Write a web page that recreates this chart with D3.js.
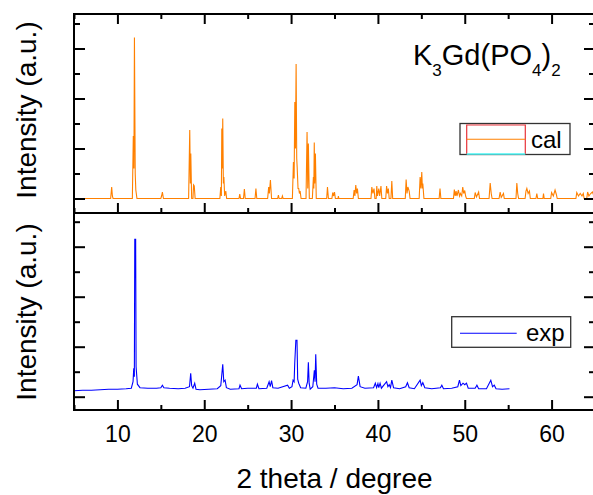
<!DOCTYPE html>
<html>
<head>
<meta charset="utf-8">
<script src="https://cdn.jsdelivr.net/npm/d3@7"></script>
<style>
body { margin: 0; background: #fff; }
text { font-family: "Liberation Sans", Arial, sans-serif; fill: #000; }
</style>
</head>
<body>
<svg id="chart" width="593" height="495"></svg>
<script>
// x axis ticks (2 theta)
var xMajor = [10, 20, 30, 40, 50, 60];
var xMinor = [5, 15, 25, 35, 45, 55, 65];
// intensity ticks (arbitrary units, one per major tick)
var yMajor = [0, 1, 2, 3];
var yMinor = [0.5, 1.5, 2.5, 3.5];

// calculated pattern: [2theta, intensity]
var calData = [
  [5,0],
  [9.22,0],[9.34,0.23],[9.42,0.05],[9.5,0],
  [11.72,0],[11.83,1.25],[11.9,0.6],[11.96,3.22],[12.05,0.5],[12.12,0.17],[12.25,0],
  [15.0,0],[15.1,0.06],[15.18,0.13],[15.3,0],
  [18.2,0],[18.33,1.37],[18.4,0.3],[18.45,0.9],[18.55,0],[18.7,0],[18.77,0.27],[18.85,0.25],[18.95,0],
  [21.8,0],[21.9,0.23],[21.97,0.05],[22.02,1.4],[22.08,0.6],[22.13,1.6],[22.2,0.3],[22.26,0.43],[22.35,0.05],[22.48,0.15],[22.58,0],
  [24.0,0],[24.09,0.09],[24.18,0],[24.52,0],[24.62,0.19],[24.72,0],
  [25.85,0],[25.95,0.2],[26.05,0],
  [27.3,0],[27.42,0.23],[27.5,0.1],[27.62,0.37],[27.75,0],
  [28.45,0],[28.54,0.07],[28.62,0],[28.92,0],[29.0,0.05],[29.08,0],
  [30.15,0],[30.27,0.73],[30.35,0.4],[30.43,1.93],[30.5,1.0],[30.58,2.69],[30.65,0.8],[30.7,0.63],[30.8,0.2],[30.88,0.2],[30.96,0.1],[31.04,0.15],[31.15,0],
  [31.72,0],[31.84,1.33],[31.92,0.2],[31.99,1.1],[32.1,0],
  [32.45,0],[32.57,0.43],[32.62,0.2],[32.67,1.12],[32.72,0.3],[32.8,0.9],[32.9,0],
  [34.1,0],[34.19,0.23],[34.3,0],[34.7,0],[34.8,0.12],[34.9,0.05],[35.0,0.13],[35.1,0],[35.4,0],[35.45,0.05],[35.5,0],
  [37.15,0],[37.26,0.17],[37.35,0.05],[37.45,0.27],[37.55,0.1],[37.64,0.2],[37.75,0],
  [39.2,0],[39.3,0.23],[39.42,0.1],[39.55,0.2],[39.65,0],
  [39.8,0],[39.87,0.25],[39.95,0.05],[40.1,0.2],[40.2,0.05],[40.35,0.25],[40.45,0],
  [40.9,0],[41.0,0.25],[41.1,0.1],[41.2,0.2],[41.3,0],[41.5,0],[41.6,0.35],[41.7,0],
  [43.15,0],[43.25,0.38],[43.35,0.1],[43.45,0.23],[43.6,0.15],[43.7,0],
  [44.75,0],[44.86,0.43],[44.95,0.2],[45.05,0.53],[45.12,0.2],[45.17,0.3],[45.3,0],
  [47.05,0],[47.15,0.2],[47.25,0],
  [48.7,0],[48.8,0.18],[48.9,0.05],[49.0,0.15],[49.1,0.05],[49.27,0.17],[49.4,0.05],[49.5,0.1],[49.65,0.05],[49.77,0.23],[49.88,0.1],[50.0,0.16],[50.1,0.05],[50.2,0],
  [51.1,0],[51.2,0.12],[51.35,0.03],[51.6,0.13],[51.7,0],
  [52.8,0],[52.93,0.31],[53.05,0.1],[53.15,0],
  [53.95,0],[54.08,0.13],[54.2,0.02],[54.46,0.1],[54.55,0],
  [55.9,0],[56.0,0.31],[56.1,0.1],[56.2,0],
  [56.95,0],[57.05,0.15],[57.15,0.2],[57.3,0.1],[57.45,0.15],[57.55,0],
  [58.2,0],[58.3,0.1],[58.4,0],[59.0,0],[59.07,0.1],[59.15,0],
  [59.9,0],[60.0,0.12],[60.2,0.05],[60.4,0.17],[60.55,0.08],[60.65,0],
  [62.8,0],[62.9,0.12],[63.1,0.05],[63.3,0.1],[63.5,0.05],[63.65,0.1],[63.75,0],
  [64.05,0],[64.15,0.13],[64.3,0.05],[64.5,0.1],[64.7,0.13],[65,0]
];

// measured pattern: [2theta, intensity]
var expData = [
  [5,0.12],[6,0.13],[7,0.13],[8,0.14],[9,0.15],[10,0.15],[11,0.16],[11.6,0.17],
  [11.8,0.3],[11.88,0.57],[11.95,0.4],[12.0,3.15],[12.1,3.15],[12.15,0.6],[12.3,0.25],[12.6,0.18],
  [13.5,0.17],[14.5,0.17],[15.0,0.18],[15.18,0.23],[15.35,0.18],[16,0.17],[17,0.16],[17.8,0.17],
  [18.3,0.2],[18.44,0.47],[18.55,0.22],[18.7,0.17],[18.9,0.27],[19.05,0.15],[19.5,0.14],[20.5,0.15],
  [21.5,0.16],[21.9,0.22],[22.0,0.4],[22.13,0.65],[22.25,0.3],[22.4,0.33],[22.55,0.18],[23,0.15],
  [24,0.16],[24.12,0.23],[24.3,0.16],[25,0.17],[26,0.17],[26.12,0.25],[26.3,0.16],[27.2,0.17],
  [27.47,0.3],[27.6,0.2],[27.75,0.32],[27.9,0.18],[28.5,0.17],[29.6,0.23],[29.8,0.17],[30.1,0.2],
  [30.23,0.33],[30.35,0.3],[30.42,0.67],[30.55,1.13],[30.68,1.13],[30.76,0.35],[30.88,0.27],[31.1,0.18],
  [31.7,0.17],[31.9,0.3],[31.99,0.69],[32.08,0.27],[32.2,0.15],[32.5,0.2],[32.68,0.53],[32.76,0.3],
  [32.84,0.85],[32.95,0.25],[33.1,0.17],[34,0.17],[35,0.18],[36,0.16],[37,0.17],[37.6,0.24],
  [37.75,0.41],[37.95,0.2],[38.5,0.17],[39.5,0.18],[39.7,0.27],[39.85,0.18],[40.0,0.26],[40.1,0.18],
  [40.25,0.27],[40.4,0.17],[41.0,0.3],[41.15,0.2],[41.3,0.24],[41.45,0.18],[41.6,0.33],[41.8,0.18],
  [42.5,0.16],[43.2,0.2],[43.4,0.28],[43.6,0.18],[44.2,0.16],[44.86,0.33],[45.0,0.22],[45.17,0.28],
  [45.4,0.18],[46.2,0.16],[47.2,0.18],[47.36,0.23],[47.55,0.16],[48.5,0.17],[49.2,0.2],[49.39,0.33],
  [49.55,0.22],[49.8,0.27],[50.0,0.24],[50.2,0.27],[50.4,0.17],[51.2,0.17],[51.4,0.23],[51.6,0.16],
  [52.5,0.16],[53.0,0.33],[53.2,0.2],[53.4,0.23],[53.6,0.16],[54.3,0.15],[55.15,0.16]
];

var svg = d3.select("#chart");

var x = d3.scaleLinear().domain([5, 65]).range([74, 595]);
var yTop = d3.scaleLinear().domain([-0.29, 3.69]).range([213, 14]);
var yBot = d3.scaleLinear().domain([-0.266, 3.674]).range([410, 213]);

// clip the traces to the plot area
var defs = svg.append("defs");
defs.append("clipPath").attr("id", "clipTop").append("rect")
  .attr("x", 74).attr("y", 14).attr("width", 521).attr("height", 199);
defs.append("clipPath").attr("id", "clipBot").append("rect")
  .attr("x", 74).attr("y", 213).attr("width", 521).attr("height", 197);

function lineFor(y) {
  return d3.line()
    .curve(d3.curveLinear)
    .x(function(d) { return x(d[0]); })
    .y(function(d) { return y(d[1]); });
}

svg.append("path")
  .datum(calData)
  .attr("clip-path", "url(#clipTop)")
  .attr("fill", "none")
  .attr("stroke", "#ff8000")
  .attr("stroke-width", 1.1)
  .attr("d", lineFor(yTop));

svg.append("path")
  .datum(expData)
  .attr("clip-path", "url(#clipBot)")
  .attr("fill", "none")
  .attr("stroke", "#0000ff")
  .attr("stroke-width", 1.1)
  .attr("d", lineFor(yBot));

// ticks, all pointing inward
function ticks(axis, values, size, transform) {
  var g = svg.append("g")
    .attr("transform", transform)
    .call(axis.tickValues(values).tickSize(size).tickFormat(""));
  g.select(".domain").remove();
  g.selectAll("line").attr("stroke", "#000").attr("stroke-width", 2);
  return g;
}

// top panel
ticks(d3.axisBottom(x), xMajor, 10, "translate(0,14)");
ticks(d3.axisBottom(x), xMinor, 5, "translate(0,14)");
ticks(d3.axisTop(x), xMajor, 10, "translate(0,213)");
ticks(d3.axisTop(x), xMinor, 5, "translate(0,213)");
ticks(d3.axisRight(yTop), yMajor, 11, "translate(74,0)");
ticks(d3.axisRight(yTop), yMinor, 6, "translate(74,0)");
ticks(d3.axisLeft(yTop), yMajor, 11, "translate(595,0)");
ticks(d3.axisLeft(yTop), yMinor, 6, "translate(595,0)");

// bottom panel
ticks(d3.axisTop(x), xMajor, 10, "translate(0,410)");
ticks(d3.axisTop(x), xMinor, 5, "translate(0,410)");
ticks(d3.axisRight(yBot), yMajor, 11, "translate(74,0)");
ticks(d3.axisRight(yBot), yMinor, 6, "translate(74,0)");
ticks(d3.axisLeft(yBot), yMajor, 11, "translate(595,0)");
ticks(d3.axisLeft(yBot), yMinor, 6, "translate(595,0)");

// x tick labels
var xl = svg.append("g")
  .attr("transform", "translate(0,410)")
  .call(d3.axisBottom(x).tickValues(xMajor).tickSize(0).tickPadding(15.5).tickFormat(d3.format("d")));
xl.select(".domain").remove();
xl.selectAll("text")
  .style("font-family", '"Liberation Sans", Arial, sans-serif')
  .style("font-size", "23px")
  .attr("fill", "#000");

// frames
svg.append("rect").attr("x", 74).attr("y", 14).attr("width", 521).attr("height", 199)
  .attr("fill", "none").attr("stroke", "#000").attr("stroke-width", 2);
svg.append("rect").attr("x", 74).attr("y", 213).attr("width", 521).attr("height", 197)
  .attr("fill", "none").attr("stroke", "#000").attr("stroke-width", 2);

// axis titles
svg.append("text")
  .attr("x", 334.5).attr("y", 488)
  .attr("text-anchor", "middle")
  .style("font-size", "28px")
  .text("2 theta / degree");

[[yTop, 110], [yBot, 312]].forEach(function(p) {
  svg.append("text")
    .attr("transform", "translate(36," + p[1] + ") rotate(-90)")
    .attr("text-anchor", "middle")
    .style("font-size", "28px")
    .text("Intensity (a.u.)");
});

// compound label
var title = svg.append("text").attr("x", 413).attr("y", 65).style("font-size", "29px");
title.append("tspan").text("K");
title.append("tspan").attr("dy", 11).style("font-size", "17px").text("3");
title.append("tspan").attr("dy", -11).text("Gd(PO");
title.append("tspan").attr("dy", 11).style("font-size", "17px").text("4");
title.append("tspan").attr("dy", -11).text(")");
title.append("tspan").attr("dy", 11).style("font-size", "17px").text("2");

// legend: cal
var lc = svg.append("g");
lc.append("rect").attr("x", 460).attr("y", 123.5).attr("width", 110).attr("height", 31)
  .attr("fill", "#fff").attr("stroke", "#333").attr("stroke-width", 1.3);
lc.append("path").attr("d", "M466.7,154 V125 H525.3 V154")
  .attr("fill", "none").attr("stroke", "#e8333a").attr("stroke-width", 1.2);
lc.append("line").attr("x1", 466.7).attr("x2", 525.3).attr("y1", 154).attr("y2", 154)
  .attr("stroke", "#55ffff").attr("stroke-width", 1.5);
lc.append("line").attr("x1", 466.7).attr("x2", 525.3).attr("y1", 139.3).attr("y2", 139.3)
  .attr("stroke", "#ff8000").attr("stroke-width", 1.1);
lc.append("text").attr("x", 531).attr("y", 148).style("font-size", "24px").text("cal");

// legend: exp
var le = svg.append("g");
le.append("rect").attr("x", 451.7).attr("y", 316.7).attr("width", 119).attr("height", 30.6)
  .attr("fill", "#fff").attr("stroke", "#333").attr("stroke-width", 1.3);
le.append("line").attr("x1", 460).attr("x2", 516.7).attr("y1", 333.3).attr("y2", 333.3)
  .attr("stroke", "#0000ff").attr("stroke-width", 1.1);
le.append("text").attr("x", 526).attr("y", 340.5).style("font-size", "24px").text("exp");
</script>
</body>
</html>
